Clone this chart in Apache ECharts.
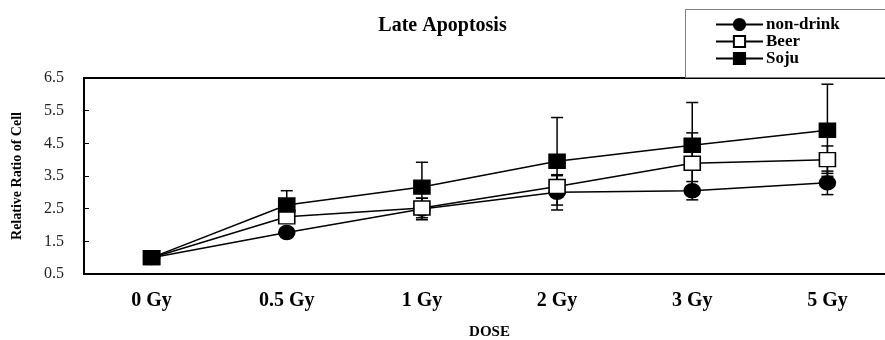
<!DOCTYPE html>
<html>
<head>
<meta charset="utf-8">
<script src="https://cdn.jsdelivr.net/npm/echarts@6/dist/echarts.min.js"></script>
<style>
  html, body { margin: 0; padding: 0; background: #fff; }
  #main { width: 885px; height: 340px; }
</style>
</head>
<body>
<div id="main"></div>
<script>
// 数据
var doses = ['0 Gy', '0.5 Gy', '1 Gy', '2 Gy', '3 Gy', '5 Gy'];
var nonDrink = [1.0, 1.77, 2.49, 3.0, 3.05, 3.29];
var nonDrinkErr = [0, 0.12, 0.33, 0.54, 0.28, 0.36];
var beer = [1.0, 2.25, 2.52, 3.18, 3.89, 4.0];
var beerErr = [0, 0.12, 0.3, 0.33, 0.93, 0.42];
var soju = [1.0, 2.61, 3.16, 3.95, 4.44, 4.9];
var sojuErr = [0, 0.44, 0.76, 1.34, 1.31, 1.41];

var serif = '"Liberation Serif", "Times New Roman", serif';

var myChart = echarts.init(document.getElementById('main'));

// 误差线 (custom series)
function errorSeries(values, errs) {
    var rows = values.map(function (v, i) { return [i, v - errs[i], v + errs[i]]; });
    return {
        type: 'custom',
        silent: true,
        z: 1,
        renderItem: function (params, api) {
            var lo = api.coord([api.value(0), api.value(1)]);
            var hi = api.coord([api.value(0), api.value(2)]);
            if (Math.abs(hi[1] - lo[1]) < 1) return null;
            var w = 6;
            var st = { stroke: '#000', lineWidth: 1.5 };
            return {
                type: 'group',
                children: [
                    { type: 'line', shape: { x1: hi[0], y1: hi[1], x2: lo[0], y2: lo[1] }, style: st },
                    { type: 'line', shape: { x1: hi[0] - w, y1: hi[1], x2: hi[0] + w, y2: hi[1] }, style: st },
                    { type: 'line', shape: { x1: lo[0] - w, y1: lo[1], x2: lo[0] + w, y2: lo[1] }, style: st }
                ]
            };
        },
        encode: { x: 0, y: [1, 2] },
        data: rows
    };
}

function lineSeries(name, values, symbol, fill, z) {
    return {
        name: name,
        type: 'line',
        data: values,
        z: z,
        symbol: symbol,
        symbolSize: [16, 14],
        showAllSymbol: true,
        lineStyle: { color: '#000', width: 1.5 },
        itemStyle: { color: fill, borderColor: '#000', borderWidth: 1.5 },
        emphasis: { disabled: true },
        animation: false
    };
}

var option = {
    animation: false,
    backgroundColor: '#fff',
    title: {
        text: 'Late Apoptosis',
        left: 'center',
        top: 11,
        textStyle: { fontFamily: serif, fontWeight: 'bold', fontSize: 20, color: '#000' }
    },
    // 图例外框 (右侧伸出画布)
    graphic: [{
        type: 'rect',
        left: 685,
        top: 9,
        z: 9,
        shape: { width: 240, height: 68 },
        style: { fill: '#fff', stroke: '#808080', lineWidth: 1 }
    }],
    legend: {
        data: ['non-drink', 'Beer', 'Soju'],
        orient: 'vertical',
        left: 685,
        top: 9,
        padding: [7, 40, 11, 30],
        itemWidth: 47,
        itemHeight: 14,
        itemGap: 0,
        z: 10,
        textStyle: {
            fontFamily: serif, fontWeight: 'bold', fontSize: 17,
            color: '#000', padding: [0, 0, 0, -2]
        }
    },
    grid: {
        left: 84,
        top: 78,
        width: 811,
        bottom: 66,
        outerBoundsMode: 'none',
        containLabel: false,
        show: true,
        borderColor: '#000',
        borderWidth: 2
    },
    xAxis: {
        type: 'category',
        data: doses,
        boundaryGap: true,
        name: 'DOSE',
        nameLocation: 'middle',
        nameGap: 51,
        nameTextStyle: { fontFamily: serif, fontWeight: 'bold', fontSize: 15, color: '#000' },
        axisLine: { lineStyle: { color: '#000', width: 2 } },
        axisTick: { inside: true, length: 5, lineStyle: { color: '#000' } },
        axisLabel: { fontFamily: serif, fontWeight: 'bold', fontSize: 20, color: '#000', margin: 17 },
        splitLine: { show: false }
    },
    yAxis: {
        type: 'value',
        min: 0.5,
        max: 6.5,
        interval: 1,
        name: 'Relative Ratio of Cell',
        nameLocation: 'middle',
        nameGap: 60,
        nameTextStyle: { fontFamily: serif, fontWeight: 'bold', fontSize: 14, color: '#000' },
        axisLine: { show: true, lineStyle: { color: '#000', width: 2 } },
        axisTick: { show: true, inside: true, length: 5, lineStyle: { color: '#000' } },
        axisLabel: {
            fontFamily: serif, fontSize: 16, color: '#222', margin: 20,
            formatter: function (v) { return v.toFixed(1); }
        },
        splitLine: { show: false }
    },
    series: [
        errorSeries(nonDrink, nonDrinkErr),
        errorSeries(beer, beerErr),
        errorSeries(soju, sojuErr),
        lineSeries('non-drink', nonDrink, 'circle', '#000', 3),
        lineSeries('Beer', beer, 'rect', '#fff', 4),
        lineSeries('Soju', soju, 'rect', '#000', 5)
    ]
};

myChart.setOption(option);
</script>
</body>
</html>
